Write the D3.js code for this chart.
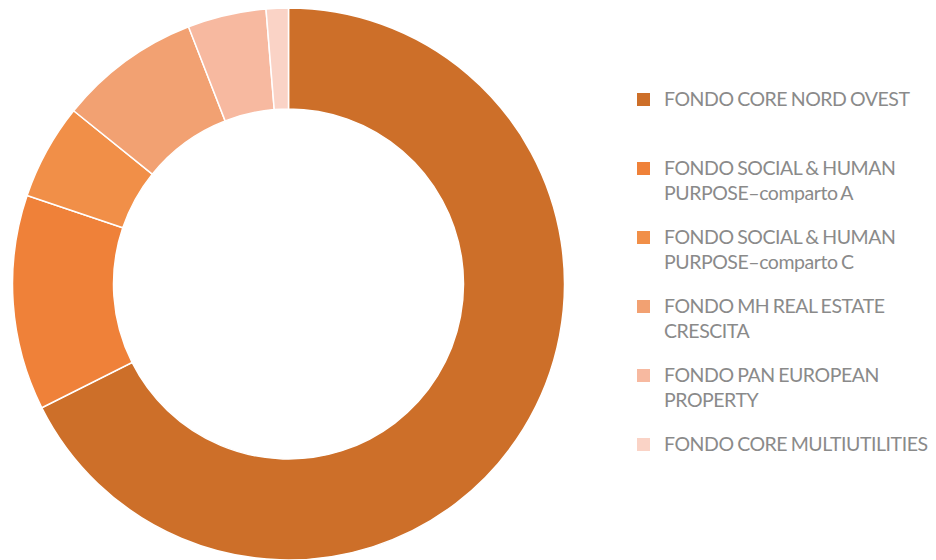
<!DOCTYPE html>
<html>
<head>
<meta charset="utf-8">
<script src="https://cdn.jsdelivr.net/npm/d3@7"></script>
<style>
  body { margin: 0; background: #fff; }
  svg { display: block; }
  .legend text { font-family: Lato, "Open Sans", sans-serif; font-size: 19.5px; fill: #8a8a8a;
    letter-spacing: -0.45px; word-spacing: -1px; }
</style>
</head>
<body>
<svg width="936" height="560"></svg>
<script>
// fund names (each split into legend lines) and their shares
var funds = [
  ["FONDO CORE NORD OVEST"],
  ["FONDO SOCIAL & HUMAN", "PURPOSE\u2013comparto A"],
  ["FONDO SOCIAL & HUMAN", "PURPOSE\u2013comparto C"],
  ["FONDO MH REAL ESTATE", "CRESCITA"],
  ["FONDO PAN EUROPEAN", "PROPERTY"],
  ["FONDO CORE MULTIUTILITIES"]
];
var shares = [67.6, 12.6, 5.6, 8.3, 4.6, 1.3];
var colors = ["#cd6f29", "#ef8139", "#f18f48", "#f2a172", "#f7b9a0", "#fad3c6"];

var svg = d3.select("svg");

var cx = 288.5, cy = 284,
  outerR = 276, innerR = 175;

var pie = d3.pie().sort(null).value(function(d) { return d; });
var arc = d3.arc().innerRadius(innerR).outerRadius(outerR);

//donut slices, clockwise from twelve o'clock
svg.append("g")
  .attr("transform", "translate(" + cx + "," + cy + ")")
  .selectAll("path")
  .data(pie(shares))
  .enter()
  .append("path")
  .attr("d", arc)
  .attr("fill", function(d, i) { return colors[i]; })
  .attr("stroke", "#fff")
  .attr("stroke-width", 1.5);

//legend on the right
var legendY = d3.scaleLinear().domain([0, 1]).range([106, 175]);

var item = svg.append("g")
  .attr("class", "legend")
  .selectAll("g")
  .data(funds)
  .enter()
  .append("g")
  .attr("transform", function(d, i) {
    return "translate(0," + legendY(i) + ")";
  });

item.append("rect")
  .attr("x", 637)
  .attr("y", -13)
  .attr("width", 13)
  .attr("height", 13)
  .attr("fill", function(d, i) { return colors[i]; });

item.append("text")
  .attr("x", 664)
  .selectAll("tspan")
  .data(function(d) { return d; })
  .enter()
  .append("tspan")
  .attr("x", 664)
  .attr("y", function(d, j) { return j * 24.5; })
  .text(function(d) { return d; });
</script>
</body>
</html>
